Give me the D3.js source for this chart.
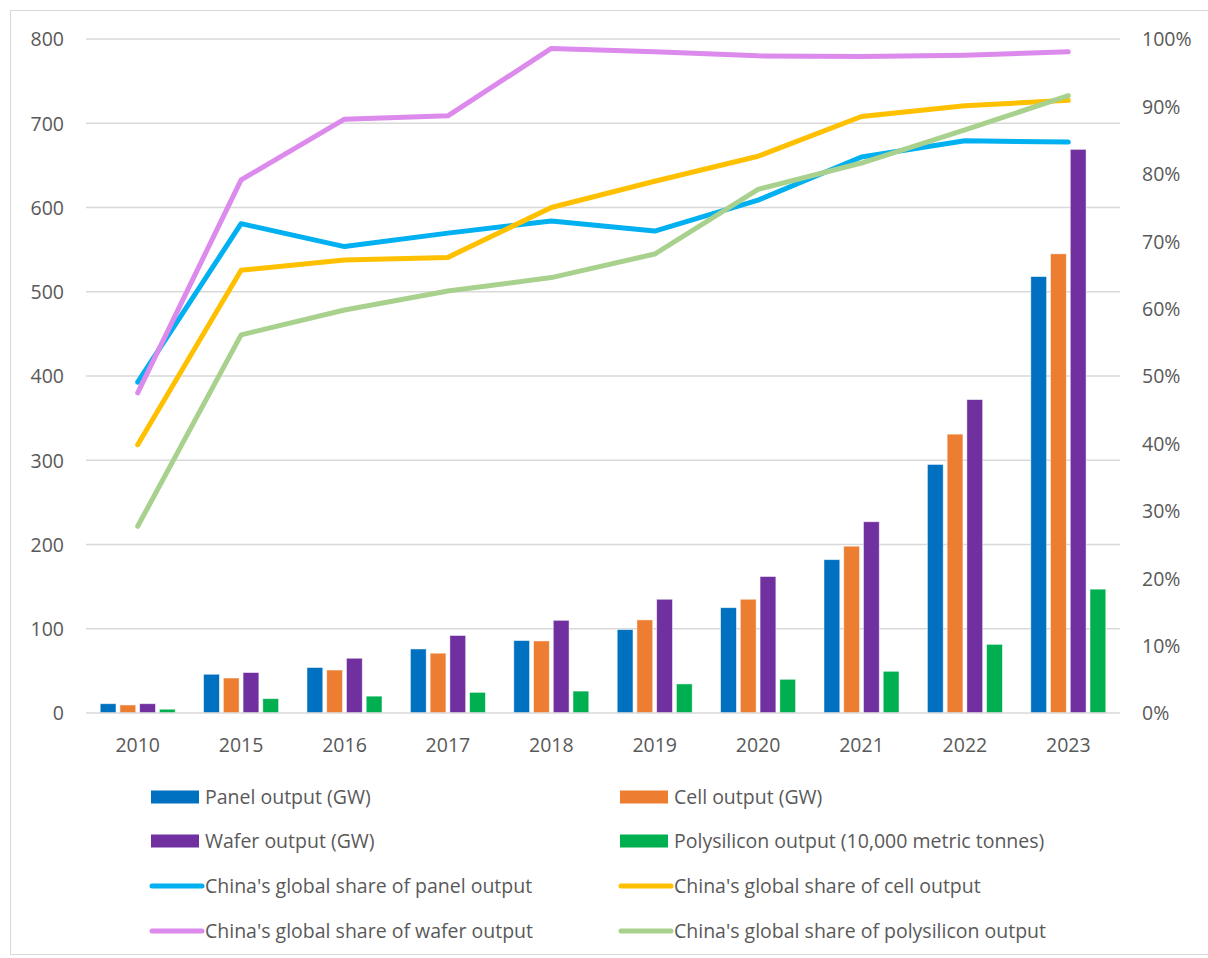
<!DOCTYPE html>
<html>
<head>
<meta charset="utf-8">
<script src="https://cdn.jsdelivr.net/npm/d3@7"></script>
<style>
  html, body { margin: 0; padding: 0; background: #fff; }
  svg text { font-family: "Open Sans", Lato, sans-serif; fill: #595959; }
</style>
</head>
<body>
<svg id="chart" width="1208" height="958"></svg>
<script>
// Solar PV supply chain: China's output (bars) and share of global output (lines)
const years = ["2010", "2015", "2016", "2017", "2018", "2019", "2020", "2021", "2022", "2023"];

const panelOutput = [11, 46, 54, 76, 86, 99, 125, 182, 295, 518];
const cellOutput = [9.5, 41.5, 51, 71, 85.5, 110.5, 135, 198, 331, 545];
const waferOutput = [11, 48, 65, 92, 110, 135, 162, 227, 372, 669];
const polysiliconOutput = [4.5, 17, 20, 24.5, 26, 34.5, 40, 49.5, 81.5, 147];

const panelShare = [49.1, 72.6, 69.2, 71.2, 73.0, 71.5, 76.1, 82.5, 84.9, 84.7];
const cellShare = [39.8, 65.7, 67.2, 67.6, 75.0, 78.9, 82.6, 88.5, 90.1, 90.9];
const waferShare = [47.5, 79.1, 88.1, 88.6, 98.6, 98.1, 97.5, 97.4, 97.6, 98.1];
const polysiliconShare = [27.7, 56.1, 59.8, 62.6, 64.6, 68.1, 77.7, 81.6, 86.5, 91.6];

const leftTicks = [0, 100, 200, 300, 400, 500, 600, 700, 800];
const rightTicks = [0, 10, 20, 30, 40, 50, 60, 70, 80, 90, 100];

const barSeries = [
  { name: "Panel output (GW)", values: panelOutput, color: "#0070C0" },
  { name: "Cell output (GW)", values: cellOutput, color: "#ED7D31" },
  { name: "Wafer output (GW)", values: waferOutput, color: "#7030A0" },
  { name: "Polysilicon output (10,000 metric tonnes)", values: polysiliconOutput, color: "#00B050" }
];
const lineSeries = [
  { name: "China's global share of panel output", values: panelShare, color: "#00B0F0" },
  { name: "China's global share of cell output", values: cellShare, color: "#FFC000" },
  { name: "China's global share of wafer output", values: waferShare, color: "#DC8AEC" },
  { name: "China's global share of polysilicon output", values: polysiliconShare, color: "#A9D18E" }
];

const svg = d3.select("#chart");
const plot = { left: 86, right: 1120, top: 39, bottom: 713 };
const fontSize = 19.5;

// outer chart frame
svg.append("rect")
  .attr("x", 10.5).attr("y", 10.5)
  .attr("width", 1220).attr("height", 944)
  .attr("fill", "none").attr("stroke", "#D9D9D9").attr("stroke-width", 1);

const x = d3.scaleBand().domain(years).range([plot.left, plot.right]).paddingInner(0).paddingOuter(0);
const xInner = d3.scaleBand().domain(d3.range(barSeries.length)).range([0, 75]).paddingInner(0.2);
const yLeft = d3.scaleLinear().domain([0, 800]).range([plot.bottom, plot.top]);
const yRight = d3.scaleLinear().domain([0, 100]).range([plot.bottom, plot.top]);

// horizontal gridlines
svg.append("g")
  .selectAll("line")
  .data(leftTicks.filter(d => d > 0))
  .join("line")
  .attr("x1", plot.left).attr("x2", plot.right)
  .attr("y1", d => yLeft(d)).attr("y2", d => yLeft(d))
  .attr("stroke", "#D9D9D9").attr("stroke-width", 1.5);

// left axis
const leftAxis = svg.append("g")
  .attr("transform", `translate(${plot.left - 22},0)`)
  .call(d3.axisLeft(yLeft).tickValues(leftTicks).tickSize(0).tickPadding(0));
leftAxis.select(".domain").remove();
leftAxis.selectAll("text").attr("font-size", fontSize).attr("dy", "0.35em");

// right axis
const rightAxis = svg.append("g")
  .attr("transform", `translate(${plot.right + 22},0)`)
  .call(d3.axisRight(yRight).tickValues(rightTicks).tickSize(0).tickPadding(0).tickFormat(d => d + "%"));
rightAxis.select(".domain").remove();
rightAxis.selectAll("text").attr("font-size", fontSize).attr("dy", "0.35em");

// bars
const groupOffset = (x.bandwidth() - 75) / 2;
barSeries.forEach((s, i) => {
  svg.append("g")
    .selectAll("rect")
    .data(s.values.map((v, j) => ({ year: years[j], v })))
    .join("rect")
    .attr("x", d => x(d.year) + groupOffset + xInner(i))
    .attr("width", xInner.bandwidth())
    .attr("y", d => yLeft(d.v))
    .attr("height", d => yLeft(0) - yLeft(d.v))
    .attr("fill", s.color)
    .attr("stroke", "#fff").attr("stroke-opacity", 0.6).attr("stroke-width", 0.8);
});

// category axis
svg.append("line")
  .attr("x1", plot.left).attr("x2", plot.right)
  .attr("y1", plot.bottom).attr("y2", plot.bottom)
  .attr("stroke", "#D9D9D9").attr("stroke-width", 1.5);
const bottomAxis = svg.append("g")
  .attr("transform", `translate(0,${plot.bottom + 32})`)
  .call(d3.axisBottom(x).tickSize(0).tickPadding(0));
bottomAxis.select(".domain").remove();
bottomAxis.selectAll("text").attr("font-size", fontSize).attr("dy", "0.35em");

// share lines
const line = d3.line()
  .x((d, j) => x(years[j]) + x.bandwidth() / 2)
  .y(d => yRight(d));
lineSeries.forEach(s => {
  svg.append("path")
    .datum(s.values)
    .attr("d", line)
    .attr("fill", "none")
    .attr("stroke", s.color)
    .attr("stroke-width", 5)
    .attr("stroke-linecap", "round")
    .attr("stroke-linejoin", "round");
});

// legend, two columns
const legendItems = [
  { ...barSeries[0], kind: "bar" }, { ...barSeries[1], kind: "bar" },
  { ...barSeries[2], kind: "bar" }, { ...barSeries[3], kind: "bar" },
  { ...lineSeries[0], kind: "line" }, { ...lineSeries[1], kind: "line" },
  { ...lineSeries[2], kind: "line" }, { ...lineSeries[3], kind: "line" }
];
const colX = [151, 620];
const rowY = [797, 841, 886, 931];
const legend = svg.append("g");
legendItems.forEach((d, k) => {
  const gx = colX[k % 2], gy = rowY[Math.floor(k / 2)];
  const g = legend.append("g").attr("transform", `translate(${gx},${gy})`);
  if (d.kind === "bar") {
    g.append("rect").attr("x", 0).attr("y", -6.5).attr("width", 48).attr("height", 13).attr("fill", d.color);
  } else {
    g.append("line").attr("x1", 1).attr("x2", 51).attr("y1", 0).attr("y2", 0)
      .attr("stroke", d.color).attr("stroke-width", 5).attr("stroke-linecap", "round");
  }
  g.append("text").attr("x", 54).attr("y", 0).attr("dy", "0.35em")
    .attr("font-size", fontSize).text(d.name);
});
</script>
</body>
</html>
